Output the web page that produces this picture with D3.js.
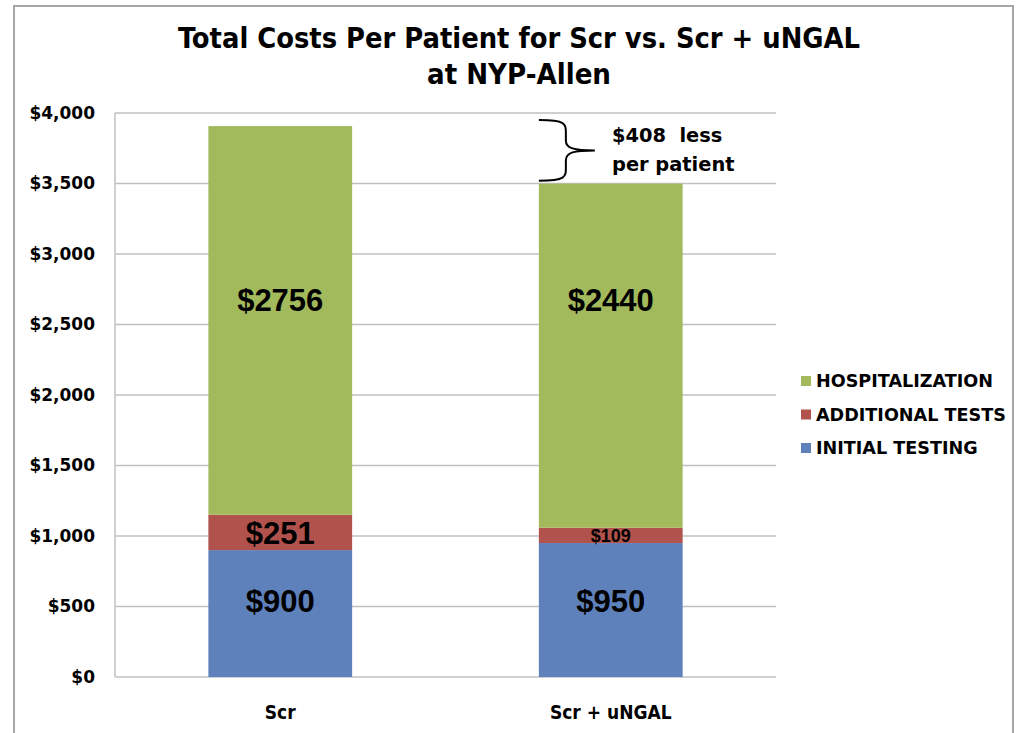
<!DOCTYPE html>
<html>
<head>
<meta charset="utf-8">
<style>
body { margin: 0; background: #fff; }
</style>
</head>
<body>
<svg id="chart"></svg>
<script src="https://cdn.jsdelivr.net/npm/d3@7"></script>
<script>
// data
var categories = ['Scr', 'Scr + uNGAL'];
var seriesNames = ['INITIAL TESTING', 'ADDITIONAL TESTS', 'HOSPITALIZATION'];
var initialTesting = [900, 950];
var additionalTests = [251, 109];
var hospitalization = [2756, 2440];
var yTicks = [0, 500, 1000, 1500, 2000, 2500, 3000, 3500, 4000];
var titleLines = ['Total Costs Per Patient for Scr vs. Scr + uNGAL', 'at NYP-Allen'];
var annotationLines = ['$408  less', 'per patient'];

var W = 1026, H = 733;
var PLOT = {left: 115, right: 776, top: 113, bottom: 677};
var COLORS = ['#5e81bc', '#b1524d', '#a2ba5c'];
var BOLD = 'DejaVu Sans, Verdana, sans-serif';
var NARROW = '"Liberation Sans Narrow", "Arial Narrow", "DejaVu Sans Condensed", sans-serif';

var rows = categories.map(function(c, i) {
	return {cat: c, 'INITIAL TESTING': initialTesting[i], 'ADDITIONAL TESTS': additionalTests[i], 'HOSPITALIZATION': hospitalization[i]};
});

var svg = d3.select('#chart').attr('width', W).attr('height', H);

svg.append('rect')
	.attr('width', W).attr('height', H)
	.style('fill', '#fff');

// outer frame
svg.append('rect')
	.attr('x', 14).attr('y', 6)
	.attr('width', 999).attr('height', 740)
	.style('fill', 'none')
	.style('stroke', '#a6a6a6')
	.style('stroke-width', 2);

var x = d3.scaleBand()
	.domain(categories)
	.range([PLOT.left, PLOT.right])
	.paddingInner(0.565)
	.paddingOuter(0.2825);

var y = d3.scaleLinear()
	.domain([0, 4000])
	.range([PLOT.bottom, PLOT.top]);

// gridlines
svg.append('g')
	.selectAll('line')
	.data(yTicks)
	.enter().append('line')
	.attr('x1', PLOT.left).attr('x2', PLOT.right)
	.attr('y1', function(d) { return y(d); })
	.attr('y2', function(d) { return y(d); })
	.style('stroke', '#c0c0c0')
	.style('stroke-width', 1.5);

svg.append('line')
	.attr('x1', PLOT.left).attr('x2', PLOT.left)
	.attr('y1', PLOT.top).attr('y2', PLOT.bottom)
	.style('stroke', '#c0c0c0')
	.style('stroke-width', 1.5);

// y axis
var yAxis = svg.append('g')
	.attr('transform', 'translate(' + PLOT.left + ',0)')
	.call(d3.axisLeft(y).tickValues(yTicks).tickSize(0).tickPadding(20)
		.tickFormat(function(d) { return '$' + d3.format(',')(d); }));
yAxis.select('.domain').remove();
yAxis.selectAll('text')
	.attr('font-family', BOLD)
	.attr('font-weight', 'bold')
	.attr('font-size', 17)
	.style('fill', '#000');

// stacked bars
var stack = d3.stack().keys(seriesNames);
var layers = stack(rows);

var layerG = svg.append('g')
	.selectAll('g')
	.data(layers)
	.enter().append('g')
	.style('fill', function(d, i) { return COLORS[i]; });

layerG.selectAll('rect')
	.data(function(d) { return d; })
	.enter().append('rect')
	.attr('x', function(d) { return x(d.data.cat); })
	.attr('width', x.bandwidth())
	.attr('y', function(d) { return y(d[1]); })
	.attr('height', function(d) { return y(d[0]) - y(d[1]); });

// segment labels (the original places the big ones at a common height)
function labelY(d, k) {
	if (k === 0) return y(540);
	if (k === 2) return y(2674);
	return (y(d[0]) + y(d[1])) / 2;
}
layers.forEach(function(layer, k) {
	layer.forEach(function(d) {
		var v = d[1] - d[0];
		var small = v < 150;
		svg.append('text')
			.attr('x', x(d.data.cat) + x.bandwidth() / 2)
			.attr('y', labelY(d, k))
			.attr('dy', '0.36em')
			.attr('text-anchor', 'middle')
			.attr('font-family', 'Liberation Sans, Arial, sans-serif')
			.attr('font-weight', 'bold')
			.attr('font-size', small ? 18 : 31)
			.style('fill', '#000')
			.text('$' + v);
	});
});

// x labels
svg.append('g')
	.selectAll('text')
	.data(categories)
	.enter().append('text')
	.attr('x', function(d) { return x(d) + x.bandwidth() / 2; })
	.attr('y', 719)
	.attr('text-anchor', 'middle')
	.attr('font-family', NARROW)
	.attr('font-weight', 'bold')
	.attr('font-size', 19)
	.style('fill', '#000')
	.text(function(d) { return d; });

// title
svg.append('text')
	.attr('x', 519).attr('y', 48)
	.attr('text-anchor', 'middle')
	.attr('font-family', NARROW)
	.attr('font-weight', 'bold')
	.attr('font-size', 29)
	.attr('textLength', 682)
	.attr('lengthAdjust', 'spacingAndGlyphs')
	.text(titleLines[0]);
svg.append('text')
	.attr('x', 519).attr('y', 84)
	.attr('text-anchor', 'middle')
	.attr('font-family', NARROW)
	.attr('font-weight', 'bold')
	.attr('font-size', 29)
	.attr('textLength', 184)
	.attr('lengthAdjust', 'spacingAndGlyphs')
	.text(titleLines[1]);

// legend
var legendItems = seriesNames.slice().reverse();
var legend = svg.append('g')
	.selectAll('g')
	.data(legendItems)
	.enter().append('g')
	.attr('transform', function(d, i) { return 'translate(801,' + (381 + i * 33.5) + ')'; });
legend.append('rect')
	.attr('x', 0).attr('y', -5)
	.attr('width', 10).attr('height', 10)
	.style('fill', function(d) { return COLORS[seriesNames.indexOf(d)]; });
legend.append('text')
	.attr('x', 15).attr('y', 6)
	.attr('font-family', BOLD)
	.attr('font-weight', 'bold')
	.attr('font-size', 17.6)
	.style('fill', '#000')
	.text(function(d) { return d; });

// brace annotation for the difference
var total1 = initialTesting[0] + additionalTests[0] + hospitalization[0];
var total2 = initialTesting[1] + additionalTests[1] + hospitalization[1];
var bx = x(categories[1]);
var yTop = y(total1) - 6, yBot = y(total2) - 3, yMid = (yTop + yBot) / 2;
var braceD = 'M ' + bx + ' ' + yTop +
	' C ' + (bx + 28) + ' ' + yTop + ' ' + (bx + 27) + ' ' + (yTop + 4) + ' ' + (bx + 27) + ' ' + (yTop + 14) +
	' L ' + (bx + 27) + ' ' + (yMid - 10) +
	' C ' + (bx + 27) + ' ' + (yMid - 2) + ' ' + (bx + 35) + ' ' + yMid + ' ' + (bx + 56) + ' ' + yMid +
	' C ' + (bx + 35) + ' ' + yMid + ' ' + (bx + 27) + ' ' + (yMid + 2) + ' ' + (bx + 27) + ' ' + (yMid + 10) +
	' L ' + (bx + 27) + ' ' + (yBot - 14) +
	' C ' + (bx + 27) + ' ' + (yBot - 4) + ' ' + (bx + 28) + ' ' + yBot + ' ' + bx + ' ' + yBot;
svg.append('path')
	.attr('d', braceD)
	.style('fill', 'none')
	.style('stroke', '#000')
	.style('stroke-width', 2);

annotationLines.forEach(function(t, i) {
	svg.append('text')
		.attr('x', 612).attr('y', 142 + i * 29)
		.attr('font-family', BOLD)
		.attr('font-weight', 'bold')
		.attr('font-size', 19.4)
		.style('fill', '#000')
		.style('white-space', 'pre')
		.text(t);
});
</script>
</body>
</html>
